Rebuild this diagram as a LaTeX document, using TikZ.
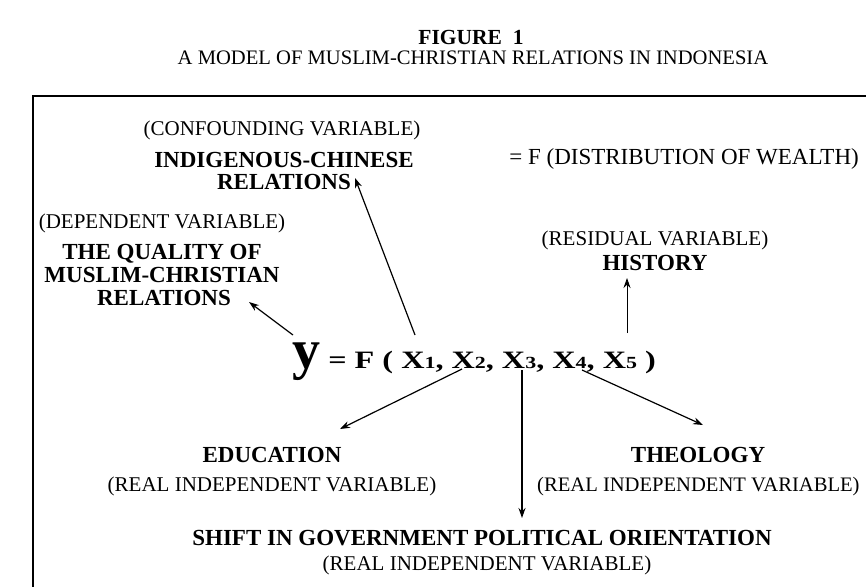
\documentclass[tikz,border=0pt]{standalone}
\usepackage{fontspec}
\usepackage{graphicx}
\setmainfont{Liberation Serif}
\usetikzlibrary{arrows.meta}
\tikzset{
  lab/.style={font=\fontsize{21}{23}\selectfont, inner sep=0pt, anchor=base},
  blab/.style={font=\fontsize{23}{25}\selectfont\bfseries, inner sep=0pt, anchor=base},
  conn/.style={line width=1.2pt, -{Stealth[length=10pt,width=7pt]}},
  frame/.style={line width=2pt, line cap=rect},
}
\newcommand{\sbx}[1]{{\fontsize{17}{17}\selectfont #1}}
\begin{document}
\begin{tikzpicture}[x=1pt,y=-1pt]
\useasboundingbox (0,0) rectangle (866,586);
\fill[white] (0,0) rectangle (866,586);

% frame
\draw[frame] (866,96) -- (33,96) -- (33,586);

% title
\node[blab, font=\fontsize{21.5}{23}\selectfont\bfseries] (fig) at (471,45) {FIGURE\ \ 1};
\node[lab, font=\fontsize{20.6}{23}\selectfont] (sub) at (473,64) {A MODEL OF MUSLIM-CHRISTIAN RELATIONS IN INDONESIA};

% confounding
\node[lab] (conf) at (282,135) {(CONFOUNDING VARIABLE)};
\node[blab] (ic1) at (284,167) {INDIGENOUS-CHINESE};
\node[blab] (ic2) at (284,189) {RELATIONS};
\node[lab, anchor=base east, font=\fontsize{23}{25}\selectfont] (wealth) at (859,164) {= F (DISTRIBUTION OF WEALTH)};

% dependent
\node[lab] (dep) at (162,228) {(DEPENDENT VARIABLE)};
\node[blab] (q1) at (162,259) {THE QUALITY OF};
\node[blab] (q2) at (162,282) {MUSLIM-CHRISTIAN};
\node[blab] (q3) at (164,305) {RELATIONS};

% residual
\node[lab] (res) at (655,245) {(RESIDUAL VARIABLE)};
\node[blab] (hist) at (655,270) {HISTORY};

% equation
\node[inner sep=0pt, anchor=base west, font=\bfseries] (eq) at (292,368)
  {{\fontsize{56}{56}\selectfont y}\scalebox{1.29}[1]{\fontsize{25}{25}\selectfont\ = F ( X\sbx{1}, X\sbx{2}, X\sbx{3}, X\sbx{4}, X\sbx{5} )}};

% independent
\node[blab] (edu) at (272,462) {EDUCATION};
\node[blab] (theo) at (698,462) {THEOLOGY};
\node[lab] (r1) at (272,491) {(REAL INDEPENDENT VARIABLE)};
\node[lab, anchor=base west, font=\fontsize{20.6}{23}\selectfont] (r2) at (537,491) {(REAL INDEPENDENT VARIABLE)};
\node[blab] (shift) at (482,545) {SHIFT IN GOVERNMENT POLITICAL ORIENTATION};
\node[lab] (r3) at (487,570) {(REAL INDEPENDENT VARIABLE)};

% connector end points
\coordinate (qs) at (293,335);  \coordinate (qe) at (249,302);
\coordinate (is) at (415,335);  \coordinate (ie) at (355,178);
\coordinate (hs) at (627,333);  \coordinate (he) at (627,278);
\coordinate (es) at (462,369);  \coordinate (ee) at (340,429);
\coordinate (ss) at (522,370);  \coordinate (se) at (522,518);
\coordinate (ts) at (582,370);  \coordinate (te) at (703,425);

\draw[conn] (qs) -- (qe);
\draw[conn] (is) -- (ie);
\draw[conn, line width=0.9pt] (hs) -- (he);
\draw[conn] (es) -- (ee);
\draw[conn] (ss) -- (se);
\draw[conn] (ts) -- (te);
\end{tikzpicture}
\end{document}
